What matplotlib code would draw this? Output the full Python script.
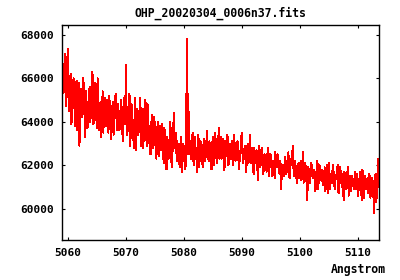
import numpy as np
import matplotlib
matplotlib.use("Agg")
import matplotlib.pyplot as plt

title = "OHP_20020304_0006n37.fits"
xlabel = "Angstrom"
wl_start = 5059.0
wl_step = 0.125
# samples on the 0.25 A grid
flux_a = [
    66900, 65300, 67100, 64700, 67350, 64500, 66200, 64400, 66000, 63800, 65900, 64600, 62900, 65500, 64200, 65700, 63300, 64800, 63900, 65600,
    64500, 66300, 64000, 65800, 63700, 65200, 64300, 63300, 65400, 64600, 63800, 65000, 63500, 64700, 63200, 64900, 64100, 65300, 63600, 64400,
    63800, 64700, 63100, 65100, 66600, 63400, 64200, 62900, 64800, 63500, 64300, 62700, 64600, 63600, 65100, 63900, 62800, 64400, 63300, 64800,
    63500, 62500, 64300, 63000, 63800, 62300, 64000, 63200, 62700, 63900, 62100, 63400, 61800, 63000, 62600, 63500, 62400, 64400, 62800, 62200,
    62600, 61900, 63300, 62400, 62200, 61800, 67800, 65300, 63100, 62300, 63500, 62000, 62800, 61700, 63400, 62500, 62900, 61900, 63200, 62400,
    63600, 62200, 62900, 61800, 63300, 62500, 63000, 62100, 63700, 62600, 62300, 63200, 61900, 62800, 63400, 62100, 62700, 63100, 62000, 62900,
    62400, 63100, 61800, 62700, 63500, 62200, 62900, 61700, 63000, 62500, 62100, 62800, 61600, 62300, 62700, 61300, 62600, 62100, 62400, 61800,
    62300, 61700, 62800, 61900, 62400, 61500, 62100, 62600, 61900, 62300, 61600, 60900, 62000, 61500, 62200, 61800, 62600, 61400, 62000, 62900,
    61500, 61900, 61200, 62100, 61700, 61300, 62600, 61600, 61900, 60400, 61800, 61200, 62000, 61400, 61700, 61000, 62200, 61500, 61300, 61800,
    61100, 61900, 61400, 60700, 62100, 61600, 61200, 61800, 60900, 61500, 62000, 61300, 61700, 61000, 60400, 61600, 61200, 61900, 61100, 60800,
    61500, 60900, 61700, 61200, 60600, 61400, 61000, 61800, 60500, 61300, 61100, 60700, 61500, 61000, 61300, 59800, 61600, 60800, 62300, 61400, 61900,
]
# samples half-way between the grid points above
flux_b = [
    65800, 66400, 64900, 66600, 65200, 65900, 63900, 65700, 64800, 65100, 63600, 65800, 64100, 64900, 66000, 64300, 65400, 63700, 65200, 64000,
    65700, 63900, 65100, 64400, 66000, 63600, 64900, 64200, 63500, 65100, 64000, 64600, 65200, 63700, 64500, 63400, 65000, 64200, 64800, 63600,
    65000, 63600, 64300, 63900, 64500, 64000, 65300, 63700, 64100, 62800, 65100, 63900, 63400, 64200, 62900, 64600, 63700, 65000, 62900, 63900,
    62600, 63900, 62800, 64200, 62700, 63500, 62400, 63800, 62900, 63100, 63700, 62500, 63300, 62300, 64000, 61900, 63200, 62900, 63500, 63100,
    63000, 62700, 61700, 63000, 62900, 62500, 62500, 62800, 62500, 63000, 62200, 63300, 62500, 63200, 61900, 63100, 62200, 63000, 62200, 63100,
    62500, 63100, 62100, 63000, 62000, 63500, 62200, 62800, 62300, 63300, 62700, 61800, 63100, 62400, 62000, 63000, 62300, 62500, 63400, 62200,
    63000, 62300, 62400, 63300, 62100, 62700, 62200, 62800, 62100, 63400, 62700, 61900, 62800, 62100, 62000, 62900, 61900, 62800, 61600, 62500,
    61900, 62500, 61500, 62500, 62000, 62200, 61400, 62100, 62500, 61700, 62200, 61800, 61500, 62400, 61600, 62300, 61500, 62300, 62400, 61800,
    62200, 61400, 62000, 61400, 62200, 61900, 61200, 62100, 61100, 61900, 61400, 62100, 61500, 61800, 60800, 61900, 60900, 62000, 61700, 61200,
    61500, 60800, 62000, 61500, 60900, 61300, 62000, 61100, 61400, 61800, 60700, 61900, 61200, 61600, 61700, 60900, 61600, 60600, 61500, 61300,
    61200, 61300, 60900, 61600, 61000, 61700, 60400, 61200, 61500, 60900, 61400, 61600, 60500, 61400, 60700, 61000, 60300, 61500, 61000, 62100,
]
xticks = [5060, 5070, 5080, 5090, 5100, 5110]
yticks = [60000, 62000, 64000, 66000, 68000]

flux = []
for i, a in enumerate(flux_a):
    flux.append(a)
    if i < len(flux_b):
        flux.append(flux_b[i])
wl = wl_start + wl_step * np.arange(len(flux))

font = {"family": "DejaVu Sans Mono", "weight": "bold"}

fig = plt.figure(figsize=(4, 2.8), dpi=100)
ax = fig.add_axes([62 / 400, 40 / 280, 317 / 400, 215 / 280])
ax.plot(wl, flux, color="#ff0000", lw=0.7, antialiased=False)
ax.set_xlim(5059.0, 5113.6)
ax.set_ylim(58560, 68450)
ax.set_xticks(xticks)
ax.set_yticks(yticks)
ax.set_xticklabels([str(t) for t in xticks], fontdict=font, fontsize=8)
ax.set_yticklabels([str(t) for t in yticks], fontdict=font, fontsize=8)
ax.tick_params(direction="in", length=2.5, width=0.8, top=True, right=True,
               colors="black")
ax.tick_params(axis="x", pad=6)
ax.tick_params(axis="y", pad=5.5)
for s in ax.spines.values():
    s.set_linewidth(1.0)
fig.text(220.5 / 400, 1 - 13 / 280, title, ha="center", va="center",
         fontsize=8.3, **font)
fig.text(358 / 400, 1 - 270 / 280, xlabel, ha="center", va="center",
         fontsize=8.3, **font)
fig.savefig("out.png", dpi=100)
